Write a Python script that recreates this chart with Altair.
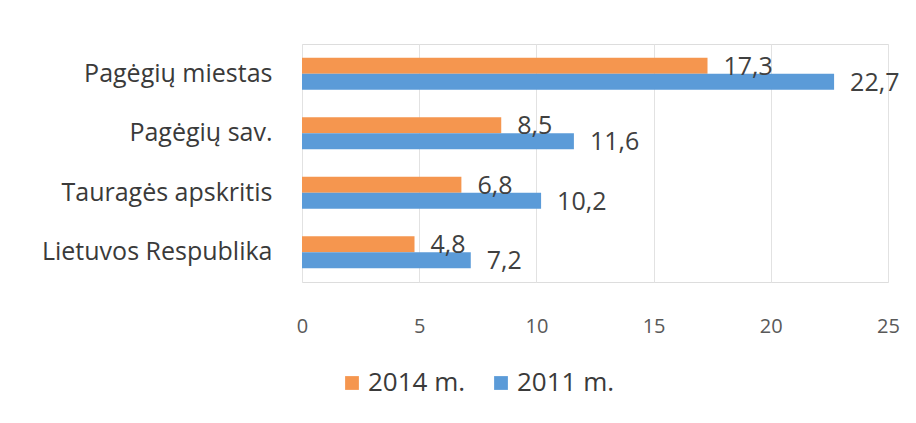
import altair as alt
import pandas as pd

categories = ["Pagėgių miestas", "Pagėgių sav.", "Tauragės apskritis", "Lietuvos Respublika"]
series = ["2014 m.", "2011 m."]
values_2014 = [17.3, 8.5, 6.8, 4.8]
values_2011 = [22.7, 11.6, 10.2, 7.2]
x_ticks = [0, 5, 10, 15, 20, 25]
colors = ["#F5964F", "#5B9BD8"]

rows = []
for c, v14, v11 in zip(categories, values_2014, values_2011):
    rows.append({"category": c, "series": series[0], "value": v14})
    rows.append({"category": c, "series": series[1], "value": v11})
df = pd.DataFrame(rows)

FONT = "Open Sans"

base = alt.Chart(df).transform_calculate(
    label="replace(format(datum.value, '.1f'), '.', ',')"
).encode(
    y=alt.Y("category:N", sort=categories,
            scale=alt.Scale(paddingInner=0.46, paddingOuter=0.23),
            axis=alt.Axis(title=None, labelFontSize=25, labelColor="#3a3a3a",
                          labelFont=FONT, ticks=False, domain=False,
                          labelPadding=30, grid=False, labelLimit=0)),
    yOffset=alt.YOffset("series:N", sort=series,
                        scale=alt.Scale(paddingInner=0, paddingOuter=0)),
    x=alt.X("value:Q", scale=alt.Scale(domain=[0, 25], nice=False),
            axis=alt.Axis(title=None, values=x_ticks, grid=True, gridColor="#e2e2e2",
                          ticks=False, domain=False, labelPadding=34,
                          labelFlush=False,
                          labelFontSize=20, labelColor="#595959", labelFont=FONT)),
)

bars = base.mark_bar().encode(
    color=alt.Color("series:N", sort=series,
                    scale=alt.Scale(domain=series, range=colors),
                    legend=alt.Legend(orient="none", direction="horizontal",
                                      legendX=37, legendY=326, title=None,
                                      symbolType="square", symbolSize=190,
                                      symbolStrokeWidth=0,
                                      labelFontSize=26, labelColor="#3a3a3a",
                                      labelFont=FONT, columnPadding=22,
                                      labelOffset=3))
)

labels = base.mark_text(align="left", baseline="middle", dx=16, dy=1,
                        fontSize=25, color="#404040", font=FONT).encode(
    text="label:N"
)

chart = alt.layer(bars, labels).properties(
    width=586, height=238,
    autosize=alt.AutoSizeParams(type="none"),
    padding={"left": 294, "top": 36, "right": 20, "bottom": 120},
).configure_view(stroke=None).configure(background="white")

chart.save("out.html", embed_options={"renderer": "svg", "actions": False})
